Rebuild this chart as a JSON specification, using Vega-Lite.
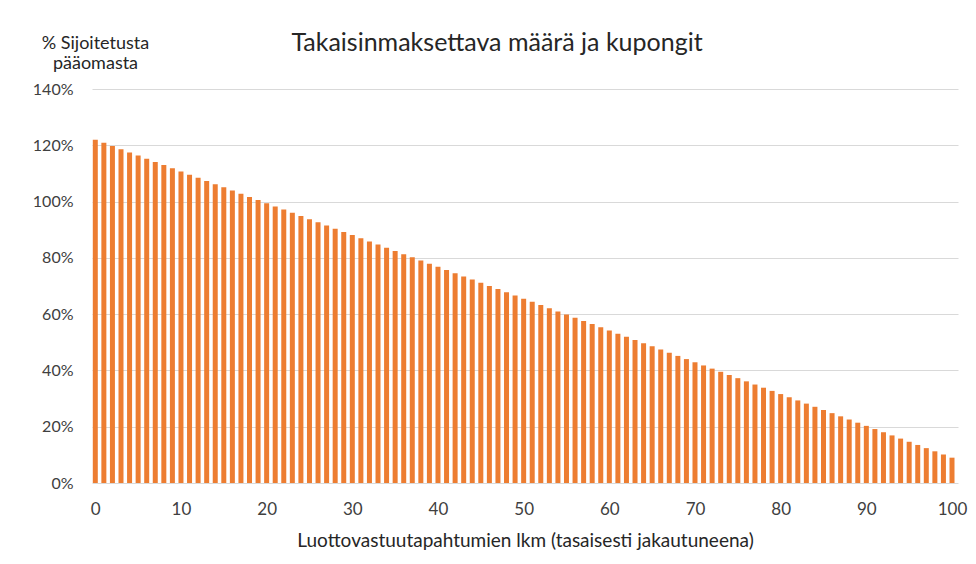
{
  "$schema": "https://vega.github.io/schema/vega-lite/v6.json",
  "width": 866,
  "height": 394,
  "autosize": "none",
  "padding": {"left": 92, "top": 89, "right": 18, "bottom": 81},
  "background": "white",
  "title": {
    "text": "Takaisinmaksettava määrä ja kupongit",
    "anchor": "middle",
    "dx": -28,
    "offset": -22,
    "font": "Lato",
    "fontSize": 25,
    "fontWeight": "normal",
    "color": "#262626"
  },
  "data": {"values": [
    {"n": 0, "v": 122.0}, {"n": 1, "v": 120.87}, {"n": 2, "v": 119.74}, {"n": 3, "v": 118.61}, {"n": 4, "v": 117.48},
    {"n": 5, "v": 116.35}, {"n": 6, "v": 115.22}, {"n": 7, "v": 114.09}, {"n": 8, "v": 112.96}, {"n": 9, "v": 111.83},
    {"n": 10, "v": 110.7}, {"n": 11, "v": 109.57}, {"n": 12, "v": 108.44}, {"n": 13, "v": 107.31}, {"n": 14, "v": 106.18},
    {"n": 15, "v": 105.05}, {"n": 16, "v": 103.92}, {"n": 17, "v": 102.79}, {"n": 18, "v": 101.66}, {"n": 19, "v": 100.53},
    {"n": 20, "v": 99.4}, {"n": 21, "v": 98.27}, {"n": 22, "v": 97.14}, {"n": 23, "v": 96.01}, {"n": 24, "v": 94.88},
    {"n": 25, "v": 93.75}, {"n": 26, "v": 92.62}, {"n": 27, "v": 91.49}, {"n": 28, "v": 90.36}, {"n": 29, "v": 89.23},
    {"n": 30, "v": 88.1}, {"n": 31, "v": 86.97}, {"n": 32, "v": 85.84}, {"n": 33, "v": 84.71}, {"n": 34, "v": 83.58},
    {"n": 35, "v": 82.45}, {"n": 36, "v": 81.32}, {"n": 37, "v": 80.19}, {"n": 38, "v": 79.06}, {"n": 39, "v": 77.93},
    {"n": 40, "v": 76.8}, {"n": 41, "v": 75.67}, {"n": 42, "v": 74.54}, {"n": 43, "v": 73.41}, {"n": 44, "v": 72.28},
    {"n": 45, "v": 71.15}, {"n": 46, "v": 70.02}, {"n": 47, "v": 68.89}, {"n": 48, "v": 67.76}, {"n": 49, "v": 66.63},
    {"n": 50, "v": 65.5}, {"n": 51, "v": 64.37}, {"n": 52, "v": 63.24}, {"n": 53, "v": 62.11}, {"n": 54, "v": 60.98},
    {"n": 55, "v": 59.85}, {"n": 56, "v": 58.72}, {"n": 57, "v": 57.59}, {"n": 58, "v": 56.46}, {"n": 59, "v": 55.33},
    {"n": 60, "v": 54.2}, {"n": 61, "v": 53.07}, {"n": 62, "v": 51.94}, {"n": 63, "v": 50.81}, {"n": 64, "v": 49.68},
    {"n": 65, "v": 48.55}, {"n": 66, "v": 47.42}, {"n": 67, "v": 46.29}, {"n": 68, "v": 45.16}, {"n": 69, "v": 44.03},
    {"n": 70, "v": 42.9}, {"n": 71, "v": 41.77}, {"n": 72, "v": 40.64}, {"n": 73, "v": 39.51}, {"n": 74, "v": 38.38},
    {"n": 75, "v": 37.25}, {"n": 76, "v": 36.12}, {"n": 77, "v": 34.99}, {"n": 78, "v": 33.86}, {"n": 79, "v": 32.73},
    {"n": 80, "v": 31.6}, {"n": 81, "v": 30.47}, {"n": 82, "v": 29.34}, {"n": 83, "v": 28.21}, {"n": 84, "v": 27.08},
    {"n": 85, "v": 25.95}, {"n": 86, "v": 24.82}, {"n": 87, "v": 23.69}, {"n": 88, "v": 22.56}, {"n": 89, "v": 21.43},
    {"n": 90, "v": 20.3}, {"n": 91, "v": 19.17}, {"n": 92, "v": 18.04}, {"n": 93, "v": 16.91}, {"n": 94, "v": 15.78},
    {"n": 95, "v": 14.65}, {"n": 96, "v": 13.52}, {"n": 97, "v": 12.39}, {"n": 98, "v": 11.26}, {"n": 99, "v": 10.13},
    {"n": 100, "v": 9.0}
  ]},
  "mark": {"type": "bar", "size": 5, "color": "#ED7D31"},
  "encoding": {
    "x": {
      "field": "n",
      "type": "quantitative",
      "scale": {"domain": [-0.385, 100.7], "nice": false, "zero": false, "padding": 0},
      "axis": {
        "values": [0, 10, 20, 30, 40, 50, 60, 70, 80, 90, 100],
        "grid": false,
        "domain": false,
        "ticks": false,
        "labelPadding": 18,
        "labelFont": "Lato",
        "labelFontSize": 17,
        "labelColor": "#404040",
        "title": "Luottovastuutapahtumien lkm (tasaisesti jakautuneena)",
        "titleFont": "Lato",
        "titleFontSize": 19,
        "titleFontWeight": "normal",
        "titleColor": "#262626",
        "titlePadding": 14
      }
    },
    "y": {
      "field": "v",
      "type": "quantitative",
      "scale": {"domain": [0, 140], "nice": false},
      "axis": {
        "values": [0, 20, 40, 60, 80, 100, 120, 140],
        "labelExpr": "datum.value + '%'",
        "grid": true,
        "gridColor": "#d9d9d9",
        "gridWidth": 1,
        "domain": false,
        "ticks": false,
        "labelPadding": 19,
        "labelFont": "Lato",
        "labelFontSize": 16,
        "labelColor": "#404040",
        "title": ["% Sijoitetusta", "pääomasta"],
        "titleAngle": 0,
        "titleAlign": "center",
        "titleBaseline": "middle",
        "titleX": 3,
        "titleY": -46,
        "titleLineHeight": 20,
        "titleFont": "Lato",
        "titleFontSize": 18,
        "titleFontWeight": "normal",
        "titleColor": "#262626"
      }
    }
  },
  "config": {"view": {"stroke": null}}
}
